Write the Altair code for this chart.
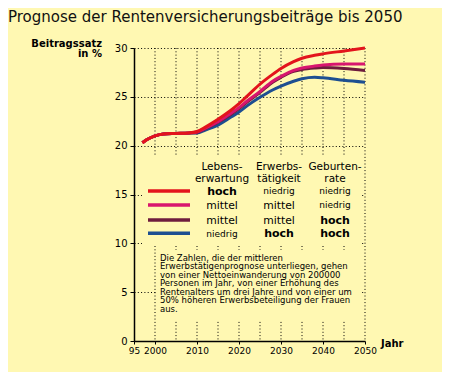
import altair as alt
import pandas as pd

# ---- data ----
years = [1997, 1998, 2000, 2002, 2005, 2008, 2010, 2012, 2015, 2018, 2020,
         2022, 2025, 2028, 2030, 2033, 2035, 2038, 2040, 2045, 2050]
red = [20.3, 20.6, 21.0, 21.2, 21.25, 21.3, 21.45, 21.9, 22.7, 23.6, 24.3,
       25.1, 26.3, 27.3, 27.9, 28.6, 28.95, 29.25, 29.4, 29.7, 30.0]
pink = [20.3, 20.6, 21.0, 21.2, 21.25, 21.3, 21.4, 21.8, 22.45, 23.3, 23.9,
        24.6, 25.55, 26.6, 27.1, 27.7, 27.95, 28.15, 28.25, 28.35, 28.35]
maroon = [20.3, 20.6, 21.0, 21.2, 21.25, 21.3, 21.35, 21.75, 22.4, 23.2, 23.8,
          24.5, 25.45, 26.5, 27.0, 27.6, 27.8, 27.95, 28.0, 27.9, 27.7]
blue = [20.3, 20.6, 21.0, 21.2, 21.25, 21.28, 21.3, 21.6, 22.1, 22.9, 23.45,
        24.1, 24.95, 25.7, 26.1, 26.6, 26.85, 27.0, 26.95, 26.7, 26.5]

series_values = [blue, maroon, pink, red]          # drawing order
series_colors = ["#1D4F91", "#6E1C3C", "#D8166E", "#E3141C"]

x_label_values = [1995, 2000, 2010, 2020, 2030, 2040, 2050]
x_grid_years = [2000, 2005, 2010, 2015, 2020, 2025, 2030, 2035, 2040, 2045, 2050]
y_ticks = [0, 5, 10, 15, 20, 25, 30]

title_text = "Prognose der Rentenversicherungsbeiträge bis 2050"
y_title = ["Beitragssatz", "in %"]
x_title = "Jahr"

legend_header = [["Lebens-", "erwartung"], ["Erwerbs-", "tätigkeit"], ["Geburten-", "rate"]]
legend_rows = [
    ["hoch", "niedrig", "niedrig"],
    ["mittel", "mittel", "niedrig"],
    ["mittel", "mittel", "hoch"],
    ["niedrig", "hoch", "hoch"],
]
legend_colors = ["#E3141C", "#D8166E", "#6E1C3C", "#1D4F91"]

note_lines = [
    "Die Zahlen, die der mittleren",
    "Erwerbstätigenprognose unterliegen, gehen",
    "von einer Nettoeinwanderung von 200000",
    "Personen im Jahr, von einer Erhöhung des",
    "Rentenalters um drei Jahre und von einer um",
    "50% höheren Erwerbsbeteiligung der Frauen",
    "aus.",
]

BG = "#FFF8B2"
FONT = "DejaVu Sans"

xscale = alt.Scale(domain=[1995, 2050], nice=False, zero=False)
yscale = alt.Scale(domain=[0, 30], nice=False)

xaxis = alt.Axis(values=x_label_values, title=None, grid=False,
                 labelExpr="datum.value == 1995 ? '95' : datum.value",
                 labelFont=FONT, labelFontSize=9, labelColor="#000",
                 labelOverlap=False,
                 domainColor="#000", domainWidth=1.5, tickColor="#000",
                 tickSize=3, labelPadding=2, labelFlush=False)
yaxis = alt.Axis(values=y_ticks, title=None, grid=True, gridColor="#000",
                 gridDash=[1, 2.3], gridWidth=1, labelFont=FONT, labelFontSize=10,
                 labelColor="#000", domainColor="#000", domainWidth=1.5,
                 tickColor="#000", tickSize=4, labelPadding=3)

# vertical dotted grid
grid_df = pd.DataFrame({"year": x_grid_years})
vgrid = alt.Chart(grid_df).mark_rule(color="#000", strokeWidth=1, strokeDash=[1, 2.3]).encode(
    x=alt.X("year:Q", scale=xscale, axis=xaxis),
)

# masks hiding the grid behind legend and note
masks = [
    alt.Chart(grid_df).mark_rect(fill=BG).encode(
        x=alt.value(8), x2=alt.value(228), y=alt.value(107), y2=alt.value(197)),
    alt.Chart(grid_df).mark_rect(fill=BG).encode(
        x=alt.value(23), x2=alt.value(227), y=alt.value(202), y2=alt.value(272)),
]

layers = [vgrid] + masks

for vals, col in zip(series_values, series_colors):
    d = pd.DataFrame({"year": years, "value": vals})
    layers.append(
        alt.Chart(d).mark_line(color=col, strokeWidth=3, interpolate="monotone").encode(
            x=alt.X("year:Q", scale=xscale, axis=xaxis),
            y=alt.Y("value:Q", scale=yscale, axis=yaxis),
        )
    )

one = pd.DataFrame({"a": [0]})


def txt(text, x, y, size, bold=False, align="left", color="#000"):
    return alt.Chart(one).mark_text(
        text=text, font=FONT, fontSize=size, fontWeight="bold" if bold else "normal",
        align=align, baseline="alphabetic", color=color
    ).encode(x=alt.value(x), y=alt.value(y))


# title and axis titles
layers.append(txt(title_text, -126, -26.5, 15, color="#111"))
layers.append(txt(y_title[0], -32, -1.5, 10, bold=True, align="right"))
layers.append(txt(y_title[1], -32, 8.5, 10, bold=True, align="right"))
layers.append(txt(x_title, 247, 298.5, 10, bold=True))

# legend
col_x = [88, 145, 201]
for cx, hdr in zip(col_x, legend_header):
    layers.append(txt(hdr[0], cx, 122, 10.5, align="center"))
    layers.append(txt(hdr[1], cx, 133.5, 10.5, align="center"))

line_y = [143, 157, 172, 185.3]
row_base = [146.5, 160.5, 175.5, 189]
for ly, by, col, row in zip(line_y, row_base, legend_colors, legend_rows):
    layers.append(
        alt.Chart(one).mark_rule(color=col, strokeWidth=3.5).encode(
            x=alt.value(14), x2=alt.value(56), y=alt.value(ly))
    )
    for cx, word in zip(col_x, row):
        if word == "hoch":
            layers.append(txt(word, cx, by, 11, bold=True, align="center"))
        elif word == "mittel":
            layers.append(txt(word, cx, by, 10.8, align="center"))
        else:
            layers.append(txt(word, cx, by - 0.5, 9, align="center"))

# note
layers.append(
    alt.Chart(one).mark_text(
        text="\n".join(note_lines), lineBreak="\n", lineHeight=8.5, font=FONT,
        fontSize=8.5, align="left", baseline="alphabetic", color="#000"
    ).encode(x=alt.value(26), y=alt.value(212.5))
)

chart = alt.layer(*layers).properties(
    width=231, height=293,
    autosize=alt.AutoSizeParams(type="none"),
    padding={"left": 126, "top": 40, "right": 77, "bottom": 31},
    background=BG,
).configure_view(stroke=None)

chart.save("out.html", embed_options={"renderer": "svg", "actions": False})
